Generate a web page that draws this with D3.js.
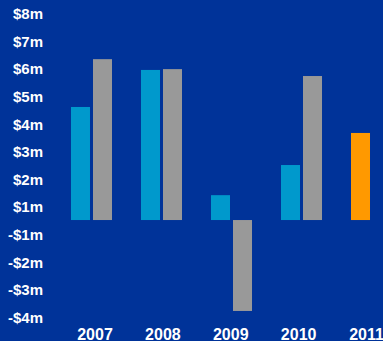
<!DOCTYPE html>
<html>
<head>
<meta charset="utf-8">
<script src="https://cdn.jsdelivr.net/npm/d3@7"></script>
<style>
  html, body { margin: 0; padding: 0; background: #003399; }
  svg { display: block; }
  text { font-family: Arial, "Liberation Sans", sans-serif; font-weight: bold; fill: #fff; }
</style>
</head>
<body>
<svg id="chart" width="383" height="341"></svg>
<script>
const years = ['2007', '2008', '2009', '2010', '2011'];
const actual = [4.09, 5.43, 0.90, 1.99, null];    // cyan
const previous = [5.82, 5.46, -3.29, 5.21, null]; // grey
const forecast = [null, null, null, null, 3.15];  // orange
const yLabels = ['$8m', '$7m', '$6m', '$5m', '$4m', '$3m', '$2m', '$1m',
  '-$1m', '-$2m', '-$3m', '-$4m'];

const svg = d3.select('#chart');

svg.append('rect')
  .attr('width', 383)
  .attr('height', 341)
  .attr('fill', '#003399');

// value scale: zero line at 220, ~27.6px per $1m
const y = d3.scaleLinear().domain([-4, 8]).range([330.6, -1.1]);

const x0 = d3.scaleBand().domain(years).range([42, 421]).paddingInner(0.414).paddingOuter(0.414);
const x1 = d3.scaleBand().domain([0, 1]).range([0, x0.bandwidth()]).paddingInner(3 / 22);

const yPos = d3.scalePoint().domain(yLabels).range([14, 318]);
const xLab = d3.scalePoint().domain(years).range([95, 366.5]);

const series = [
  { values: actual, slot: 0, color: '#0099cc' },
  { values: previous, slot: 1, color: '#999999' },
  { values: forecast, slot: 0, color: '#ff9900' }
];

series.forEach(s => {
  const rows = years.map((yr, i) => ({ year: yr, value: s.values[i] }))
    .filter(d => d.value !== null);
  svg.append('g')
    .selectAll('rect')
    .data(rows)
    .join('rect')
    .attr('x', d => x0(d.year) + x1(s.slot))
    .attr('width', x1.bandwidth())
    .attr('y', d => y(Math.max(0, d.value)))
    .attr('height', d => Math.abs(y(d.value) - y(0)))
    .attr('fill', s.color);
});

svg.append('g')
  .selectAll('text')
  .data(yLabels)
  .join('text')
  .attr('x', 43)
  .attr('y', d => yPos(d) + 5)
  .attr('text-anchor', 'end')
  .style('font-size', '15px')
  .text(d => d);

svg.append('g')
  .selectAll('text')
  .data(years)
  .join('text')
  .attr('x', d => xLab(d))
  .attr('y', 339.5)
  .attr('text-anchor', 'middle')
  .style('font-size', '16px')
  .text(d => d);
</script>
</body>
</html>
